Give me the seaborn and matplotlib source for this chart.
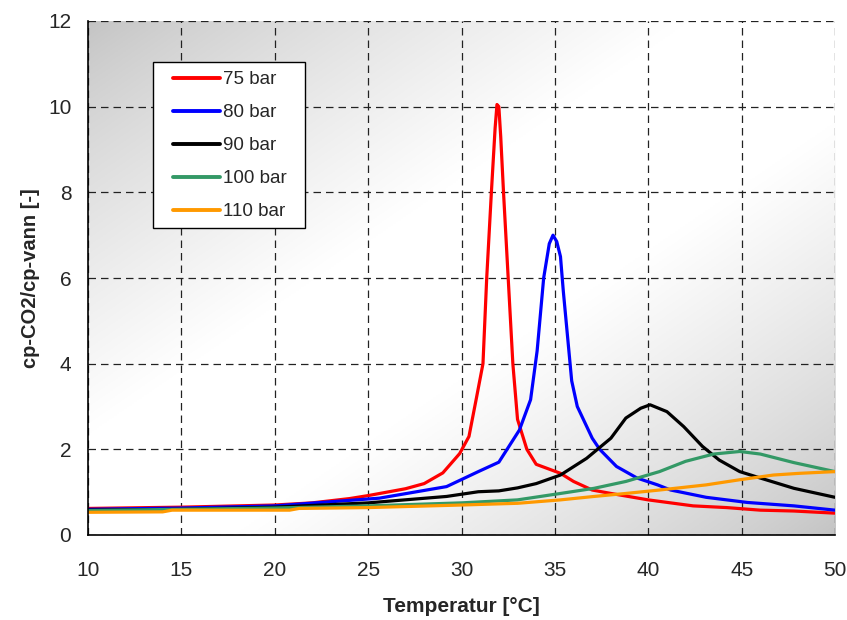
import numpy as np
import pandas as pd
import matplotlib
matplotlib.use("Agg")
import matplotlib.pyplot as plt
from matplotlib.ticker import MultipleLocator
from matplotlib.patches import Rectangle
import seaborn as sns

# ---- data ----
t75 = [10, 15, 20, 22, 24, 25, 27, 28, 29, 29.9, 30.4, 30.8, 31.15, 31.35, 31.6, 31.8, 31.9, 32.0, 32.1, 32.25, 32.5, 32.75, 33.0, 33.5, 34.0, 35.3, 36.0, 37.0, 38.0, 40.0, 42.4, 44.2, 46.0, 47.8, 50.0]
cp75 = [0.62, 0.65, 0.70, 0.75, 0.85, 0.92, 1.08, 1.2, 1.45, 1.9, 2.3, 3.2, 4.0, 6.0, 8.0, 9.5, 10.05, 10.0, 9.3, 8.0, 6.0, 4.0, 2.7, 2.0, 1.65, 1.44, 1.25, 1.05, 0.97, 0.82, 0.68, 0.64, 0.58, 0.56, 0.51]

t80 = [10, 15, 20, 25.6, 29.2, 30.9, 32.0, 33.1, 33.7, 34.05, 34.4, 34.7, 34.9, 35.1, 35.3, 35.45, 35.9, 36.2, 37.0, 37.4, 38.3, 39.4, 40.5, 41.2, 43.1, 45.3, 47.8, 50.0]
cp80 = [0.60, 0.63, 0.68, 0.86, 1.13, 1.48, 1.7, 2.45, 3.16, 4.3, 6.0, 6.8, 7.0, 6.85, 6.5, 5.7, 3.6, 3.0, 2.26, 2.0, 1.6, 1.33, 1.17, 1.05, 0.88, 0.76, 0.68, 0.58]

t90 = [10, 15, 20, 25, 29.2, 30.9, 32.0, 33.0, 34.0, 35.3, 36.7, 38.0, 38.8, 39.6, 40.1, 41.0, 41.9, 42.9, 43.8, 44.9, 46.0, 47.8, 50.0]
cp90 = [0.58, 0.6, 0.65, 0.75, 0.9, 1.01, 1.03, 1.1, 1.2, 1.40, 1.79, 2.26, 2.73, 2.96, 3.04, 2.88, 2.53, 2.07, 1.75, 1.48, 1.33, 1.09, 0.88]

t100 = [10, 15, 20, 25, 30, 33, 35.3, 37.1, 38.8, 40.6, 42.0, 43.5, 44.9, 46.0, 47.8, 50.0]
cp100 = [0.57, 0.6, 0.63, 0.68, 0.75, 0.82, 0.97, 1.09, 1.25, 1.48, 1.72, 1.89, 1.95, 1.89, 1.69, 1.48]

t110 = [10, 14, 14.5, 20.8, 21.3, 25, 30, 33, 35.3, 37.1, 38.8, 40.6, 43.1, 44.9, 46.7, 48.1, 50.0]
cp110 = [0.53, 0.54, 0.58, 0.58, 0.62, 0.64, 0.70, 0.74, 0.82, 0.90, 0.97, 1.05, 1.17, 1.29, 1.40, 1.44, 1.48]

labels = ["75 bar", "80 bar", "90 bar", "100 bar", "110 bar"]
colors = ["#ff0000", "#0000ff", "#000000", "#339966", "#ff9900"]

xticks = [10, 15, 20, 25, 30, 35, 40, 45, 50]
yticks = [0, 2, 4, 6, 8, 10, 12]

frames = []
for lab, t, c in zip(labels, [t75, t80, t90, t100, t110], [cp75, cp80, cp90, cp100, cp110]):
    frames.append(pd.DataFrame({"T": t, "cp": c, "Serie": lab}))
df = pd.concat(frames, ignore_index=True)

sns.set_style("white")
plt.rcParams["font.family"] = ["Liberation Sans", "DejaVu Sans"]

W, H = 847, 620
fig = plt.figure(figsize=(W / 100, H / 100), dpi=100)
AX_L, AX_R, AX_T, AX_B = 88, 835, 21, 535
ax = fig.add_axes([AX_L / W, (H - AX_B) / H, (AX_R - AX_L) / W, (AX_B - AX_T) / H])

# gradient background: grey at top-left and bottom-right, white along the other diagonal
n = 300
u = np.linspace(0, 1, n)
U, V = np.meshgrid(u, u)          # V = 0 is the top row
tt = (U + V) / 2
w = 1 - np.abs(2 * tt - 1)
w = np.clip(w * 1.25, 0, 1) ** 0.8
g = 0.765 + 0.235 * w
img = np.dstack([g, g, g])
ax.imshow(img, extent=[10, 50, 0, 12], aspect="auto", zorder=0, origin="upper")

sns.lineplot(data=df, x="T", y="cp", hue="Serie", palette=colors, hue_order=labels,
             linewidth=2.3, ax=ax, zorder=3, legend=True)

ax.set_xlim(10, 50)
ax.set_ylim(0, 12)
ax.set_xticks(xticks)
ax.set_yticks(yticks)
ax.xaxis.set_minor_locator(MultipleLocator(1))
ax.yaxis.set_minor_locator(MultipleLocator(1))
ax.tick_params(axis="both", which="major", direction="out", length=6, width=1, labelsize=15, color="black", pad=6)
ax.tick_params(axis="x", which="major", pad=13)
ax.tick_params(axis="both", which="minor", direction="in", length=4, width=1, color="black")
ax.grid(True, which="major", color="#222222", linestyle=(0, (6, 4)), linewidth=0.9, zorder=1)
ax.set_axisbelow(False)
for s in ["top", "right"]:
    ax.spines[s].set_visible(False)
for s in ["left", "bottom"]:
    ax.spines[s].set_color("black")
    ax.spines[s].set_linewidth(1.2)
    ax.spines[s].set_zorder(5)

ax.set_xlabel("Temperatur [°C]", fontsize=15, fontweight="bold", labelpad=12)
ax.set_ylabel("cp-CO2/cp-vann [-]", fontsize=14.5, fontweight="bold", labelpad=6)

# legend box (frame drawn as a rectangle in axes coordinates)
def ax_x(px):
    return (px - AX_L) / (AX_R - AX_L)

def ax_y(py):
    return (AX_B - py) / (AX_B - AX_T)

bx0, bx1, by0, by1 = 153, 305, 62, 228
ax.add_patch(Rectangle((ax_x(bx0), ax_y(by1)), ax_x(bx1) - ax_x(bx0), ax_y(by0) - ax_y(by1),
                       transform=ax.transAxes, facecolor="white", edgecolor="black",
                       linewidth=1.0, zorder=8))
leg = ax.legend(loc="upper left", bbox_to_anchor=(ax_x(173), ax_y(71)),
                frameon=False, fontsize=13.5, handlelength=2.5,
                labelspacing=0.85, borderpad=0.0, borderaxespad=0.0, handletextpad=0.15)
leg.set_zorder(10)
for line in leg.get_lines():
    line.set_linewidth(2.8)

fig.savefig("out.png", dpi=100)
